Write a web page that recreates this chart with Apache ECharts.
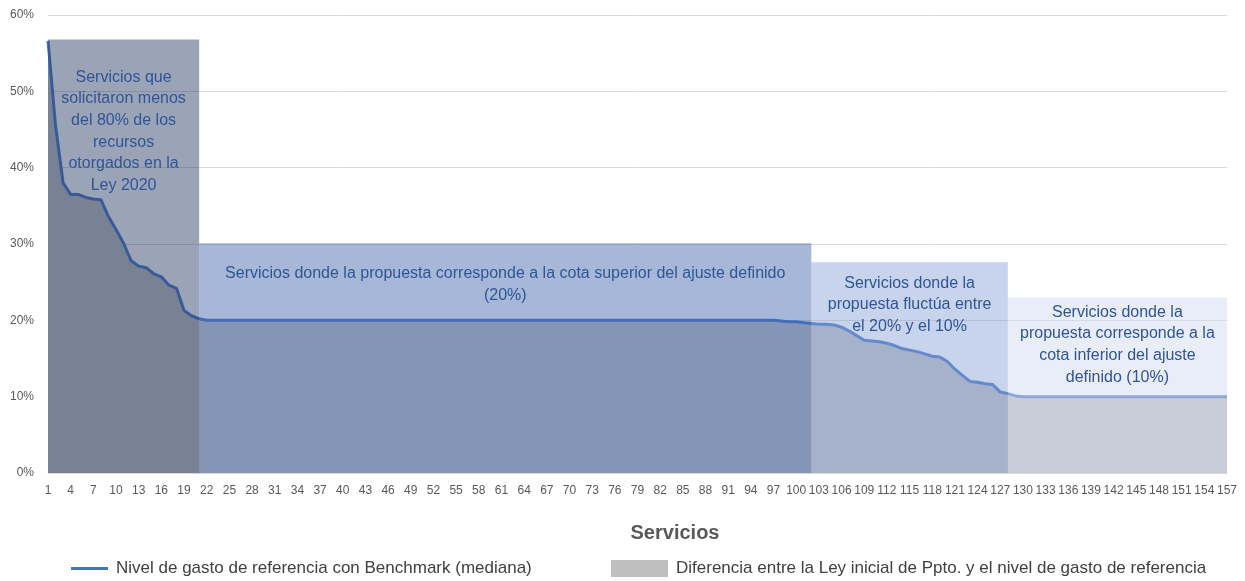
<!DOCTYPE html>
<html>
<head>
<meta charset="utf-8">
<title>Servicios</title>
<script src="https://cdn.jsdelivr.net/npm/echarts@6/dist/echarts.min.js"></script>
<style>
    html, body { margin: 0; padding: 0; background: #fff; }
    #chart { width: 1245px; height: 581px; }
</style>
</head>
<body>
<div id="chart"></div>
<script>
// categorias: servicios 1..157
var categorias = [];
for (var i = 1; i <= 157; i++) {
    categorias.push(String(i));
}

// nivel de gasto de referencia (%)
var gasto = [
    56.6, 45.5, 38.0, 36.5, 36.5, 36.1, 35.9, 35.8, 33.6, 31.9,
    30.1, 27.8, 27.1, 26.9, 26.1, 25.7, 24.6, 24.2, 21.3, 20.6,
    20.2,
    20, 20, 20, 20, 20, 20, 20, 20, 20, 20,
    20, 20, 20, 20, 20, 20, 20, 20, 20, 20,
    20, 20, 20, 20, 20, 20, 20, 20, 20, 20,
    20, 20, 20, 20, 20, 20, 20, 20, 20, 20,
    20, 20, 20, 20, 20, 20, 20, 20, 20, 20,
    20, 20, 20, 20, 20, 20, 20, 20, 20, 20,
    20, 20, 20, 20, 20, 20, 20, 20, 20, 20,
    20, 20, 20, 20, 20, 20,
    19.9, 19.8, 19.8, 19.7, 19.6, 19.5, 19.5, 19.4, 19.1, 18.6,
    18.0, 17.4, 17.3, 17.2, 17.0, 16.7, 16.3, 16.1, 15.9, 15.6,
    15.3, 15.2, 14.6, 13.6, 12.8, 12.0, 11.9, 11.7, 11.6, 10.6,
    10.4, 10.1,
    10, 10, 10, 10, 10, 10, 10, 10, 10, 10,
    10, 10, 10, 10, 10, 10, 10, 10, 10, 10,
    10, 10, 10, 10, 10, 10, 10, 10
];

// tramos (cuadros) del grafico
var tramoTexto = [
    'Servicios que\nsolicitaron menos\ndel 80% de los\nrecursos\notorgados en la\nLey 2020',
    'Servicios donde la propuesta corresponde a la cota superior del ajuste definido\n(20%)',
    'Servicios donde la\npropuesta fluctúa entre\nel 20% y el 10%',
    'Servicios donde la\npropuesta corresponde a la\ncota inferior del ajuste\ndefinido (10%)'
];
var tramoDesde = ['1', '21', '102', '128'];
var tramoHasta = ['21', '102', '128', '157'];
var tramoTope = [56.8, 30.1, 27.6, 23];

var yTicks = [0, 10, 20, 30, 40, 50, 60];

var nombreLinea = 'Nivel de gasto de referencia con Benchmark (mediana)';
var nombreArea = 'Diferencia entre la Ley inicial de Ppto. y el nivel de gasto de referencia';

// estilos
var coloresTramo = [
    'rgba(45,65,105,0.48)',
    'rgba(66,102,172,0.47)',
    'rgba(136,164,215,0.47)',
    'rgba(209,219,239,0.5)'
];
var distTexto = [27, 20, 10, 4];

var myChart = echarts.init(document.getElementById('chart'));

var areas = [];
for (var k = 0; k < tramoTexto.length; k++) {
    areas.push([
        {
            name: tramoTexto[k],
            xAxis: tramoDesde[k],
            yAxis: 0,
            itemStyle: { color: coloresTramo[k] },
            label: { distance: distTexto[k] }
        },
        { xAxis: tramoHasta[k], yAxis: tramoTope[k] }
    ]);
}

var fuente = 'Liberation Sans';

var option = {
    animation: false,
    textStyle: { fontFamily: fuente },
    title: {
        text: 'Servicios',
        left: 670,
        textAlign: 'center',
        top: 518,
        textStyle: { fontSize: 20, fontWeight: 'bold', color: '#595959', fontFamily: fuente }
    },
    legend: [
        {
            left: 66,
            top: 555,
            itemWidth: 37,
            itemHeight: 3,
            data: [{ name: nombreLinea, icon: 'rect', itemStyle: { color: '#4472c4' } }],
            textStyle: { fontSize: 17, color: '#404040', fontFamily: fuente, padding: [0, 0, 0, 3] }
        },
        {
            left: 606,
            top: 555,
            itemWidth: 57,
            itemHeight: 17,
            data: [{ name: nombreArea, icon: 'rect', itemStyle: { color: '#bfbfbf' } }],
            textStyle: { fontSize: 17, color: '#404040', fontFamily: fuente, padding: [0, 0, 0, 3] }
        }
    ],
    grid: {
        left: 48,
        right: 18,
        top: 15,
        bottom: 108,
        containLabel: false
    },
    xAxis: {
        type: 'category',
        boundaryGap: false,
        data: categorias,
        axisLine: { lineStyle: { color: '#d9d9d9', width: 1 } },
        axisTick: { show: false },
        axisLabel: {
            interval: 2,
            color: '#595959',
            fontSize: 12,
            margin: 12,
            fontFamily: fuente
        }
    },
    yAxis: {
        type: 'value',
        min: yTicks[0],
        max: yTicks[yTicks.length - 1],
        interval: 10,
        axisLine: { show: false },
        axisTick: { show: false },
        splitLine: { lineStyle: { color: '#d9d9d9' } },
        axisLabel: {
            formatter: '{value}%',
            color: '#595959',
            fontSize: 12,
            margin: 14,
            fontFamily: fuente
        }
    },
    series: [
        {
            name: nombreArea,
            type: 'line',
            data: gasto,
            symbol: 'none',
            z: 1,
            itemStyle: { color: '#bfbfbf' },
            lineStyle: { width: 0 },
            areaStyle: { color: '#bfbfbf', opacity: 1 }
        },
        {
            name: nombreLinea,
            type: 'line',
            data: gasto,
            symbol: 'none',
            z: 2,
            itemStyle: { color: '#4472c4' },
            lineStyle: { width: 3, color: '#4472c4' },
            markArea: {
                z: 5,
                silent: true,
                label: {
                    show: true,
                    position: 'insideTop',
                    color: '#2f5597',
                    fontSize: 16,
                    lineHeight: 21.7,
                    align: 'center',
                    fontFamily: fuente
                },
                data: areas
            }
        }
    ]
};

myChart.setOption(option);
</script>
</body>
</html>
